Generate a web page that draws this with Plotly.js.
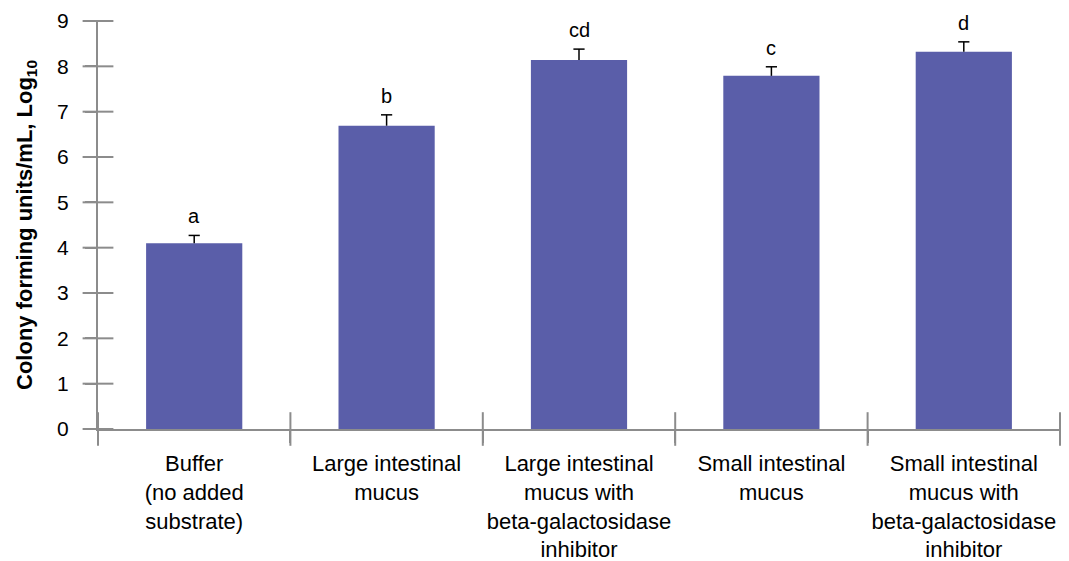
<!DOCTYPE html>
<html>
<head>
<meta charset="utf-8">
<script src="https://cdn.plot.ly/plotly-3.0.1.min.js"></script>
<style>html,body{margin:0;padding:0;background:#fff;}#chart{width:1069px;height:561px;}</style>
</head>
<body>
<div id="chart"></div>
<script>
const categories = [
  "Buffer<br>(no added<br>substrate)",
  "Large intestinal<br>mucus",
  "Large intestinal<br>mucus with<br>beta-galactosidase<br>inhibitor",
  "Small intestinal<br>mucus",
  "Small intestinal<br>mucus with<br>beta-galactosidase<br>inhibitor"
];
const values = [4.10, 6.69, 8.14, 7.79, 8.32];
const errors = [0.17, 0.24, 0.24, 0.20, 0.22];
const letters = ["a", "b", "cd", "c", "d"];
const yTicks = [0,1,2,3,4,5,6,7,8,9];

const FONT = "Liberation Sans, Arial, Helvetica, sans-serif";
const AXIS = "#8c8c8c";

const bars = {
  type: "bar",
  x: categories,
  y: values,
  marker: {color: "#5a5ea9"},
  error_y: {type: "data", array: errors, arrayminus: errors.map(() => 0), symmetric: false, visible: true, color: "#000", thickness: 1.5, width: 0},
  hoverinfo: "skip"
};
// error bar caps (top only)
const caps = {
  type: "scatter", mode: "markers",
  x: categories,
  y: values.map((v, i) => v + errors[i]),
  marker: {symbol: "line-ew-open", size: 8, color: "#000", line: {color: "#000", width: 1.5}},
  hoverinfo: "skip", showlegend: false
};

const annotations = letters.map((t, i) => ({
  x: categories[i], y: values[i] + errors[i], xref: "x", yref: "y",
  text: t, showarrow: false, yanchor: "bottom", yshift: 6,
  font: {family: FONT, size: 20, color: "#000"}
}));

// tick marks that cross the axis lines on both sides, drawn as line markers on a hidden linear x axis
const boundaries = categories.map((_, i) => i - 0.5).concat([categories.length - 0.5]);
const xCross = {
  type: "scatter", mode: "markers", xaxis: "x2", yaxis: "y", cliponaxis: false,
  x: boundaries, y: boundaries.map(() => 0),
  marker: {symbol: "line-ns-open", size: 24, color: AXIS, line: {color: AXIS, width: 2}},
  hoverinfo: "skip", showlegend: false
};
const yCross = {
  type: "scatter", mode: "markers", xaxis: "x2", yaxis: "y", cliponaxis: false,
  x: yTicks.map(() => boundaries[0]), y: yTicks,
  marker: {symbol: "line-ew-open", size: 22, color: AXIS, line: {color: AXIS, width: 2}},
  hoverinfo: "skip", showlegend: false
};

const layout = {
  width: 1069, height: 561,
  margin: {l: 98, r: 9, t: 21, b: 132},
  paper_bgcolor: "#fff", plot_bgcolor: "#fff",
  showlegend: false,
  bargap: 0.5,
  font: {family: FONT, color: "#000"},
  xaxis: {
    type: "category", range: [-0.5, 4.5],
    tickson: "boundaries", ticks: "outside", ticklen: 12, tickwidth: 2, tickcolor: AXIS,
    showline: true, linecolor: AXIS, linewidth: 2, showgrid: false, zeroline: false, tickangle: 0,
    tickfont: {family: FONT, size: 22, color: "#000"}, ticklabelstandoff: 14
  },
  xaxis2: {
    type: "linear", range: [-0.5, 4.5], overlaying: "x", anchor: "y", visible: false
  },
  yaxis: {
    range: [0, 9], tickvals: yTicks, ticks: "outside", ticklen: 11, tickwidth: 2, tickcolor: AXIS,
    showline: true, linecolor: AXIS, linewidth: 2, showgrid: false, zeroline: false,
    tickfont: {family: FONT, size: 21, color: "#000"}, ticklabelstandoff: 12,
    title: {text: "Colony forming units/mL, Log<sub>10</sub>", font: {family: FONT, size: 22, color: "#000", weight: "bold"}, standoff: 18}
  },
  annotations: annotations
};

Plotly.newPlot("chart", [bars, caps, xCross, yCross], layout, {displayModeBar: false, staticPlot: true});
</script>
</body>
</html>
